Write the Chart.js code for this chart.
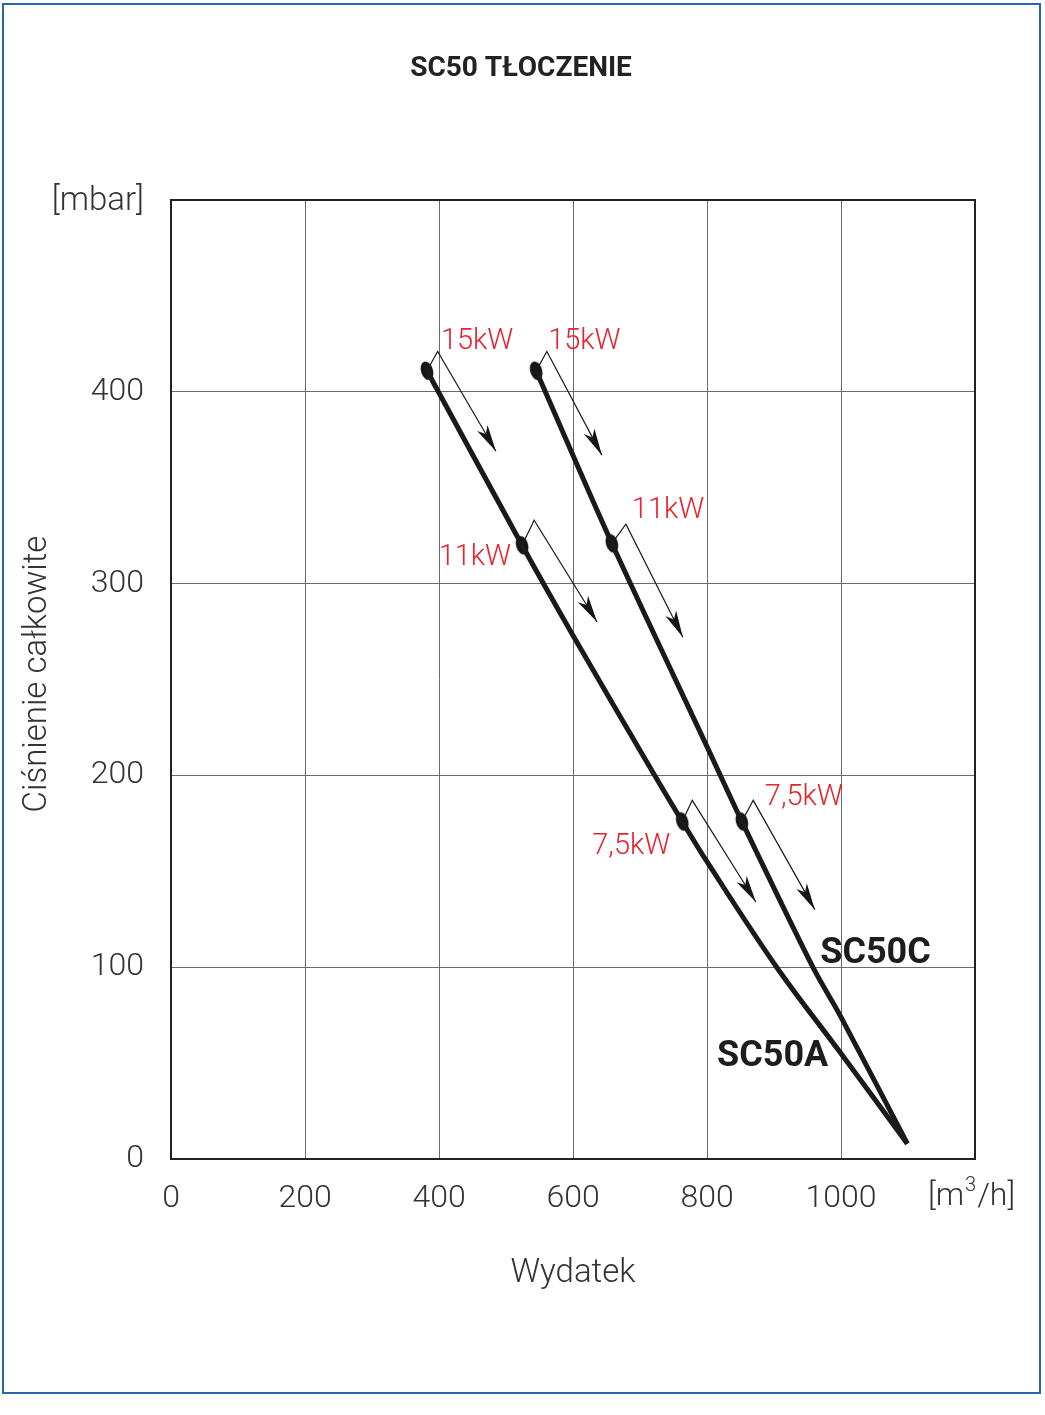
<!DOCTYPE html>
<html>
<head>
<meta charset="utf-8">
<script src="https://cdn.jsdelivr.net/npm/chart.js@4.4.1/dist/chart.umd.min.js"></script>
<style>
  html, body { margin: 0; padding: 0; background: #fff; }
  #frame { position: absolute; left: 2px; top: 3px; width: 1035px; height: 1387px; border: 2px solid #2566ad; }
  #wrap { position: absolute; left: 0; top: 0; width: 1045px; height: 1415px; }
</style>
</head>
<body>
<div id="frame"></div>
<div id="wrap"><canvas id="pumpChart" width="1045" height="1415"></canvas></div>
<script>
// model names and motor sizes
const modelNames = ['SC50A', 'SC50C'];
const motorPower = ['15kW', '11kW', '7,5kW'];

// curves: flow [m3/h] -> total pressure [mbar]
const sc50aFlow = [382, 524, 600, 722, 763, 800, 904, 1000, 1099];
const sc50aPressure = [411, 320, 273, 200, 176, 155, 100, 55, 8];
const sc50cFlow = [545, 658, 800, 852, 958, 1000, 1099];
const sc50cPressure = [411, 321, 215, 176, 100, 74, 8];

// operating points (15kW, 11kW, 7,5kW)
const sc50aPointFlow = [382, 524, 763];
const sc50aPointPressure = [411, 320, 176];
const sc50cPointFlow = [545, 658, 852];
const sc50cPointPressure = [411, 321, 176];

// arrows next to each point: bend and tip
const sc50aArrowBendFlow = [398, 542, 778];
const sc50aArrowBendPressure = [421, 333, 187];
const sc50aArrowTipFlow = [485, 636, 873];
const sc50aArrowTipPressure = [369, 280, 134];
const sc50cArrowBendFlow = [561, 679, 869];
const sc50cArrowBendPressure = [421, 331, 187];
const sc50cArrowTipFlow = [643, 764, 961];
const sc50cArrowTipPressure = [367, 272, 130];

// axis ticks
const flowTicks = [0, 200, 400, 600, 800, 1000, 1200];
const pressureTicks = [0, 100, 200, 300, 400, 500];

const toXY = (xs, ys) => xs.map((x, i) => ({ x: x, y: ys[i] }));

// the elliptic dot used for points
const dot = document.createElement('canvas');
dot.width = 20; dot.height = 24;
(function () {
  const d = dot.getContext('2d');
  d.fillStyle = '#161616';
  d.beginPath();
  d.ellipse(10, 12, 6, 9.5, -0.3, 0, Math.PI * 2);
  d.fill();
})();

const datasets = [
  { label: modelNames[0], data: toXY(sc50aFlow, sc50aPressure), showLine: true, borderColor: '#1a1a1a',
    borderWidth: 5, pointRadius: 0, tension: 0.35 },
  { label: modelNames[1], data: toXY(sc50cFlow, sc50cPressure), showLine: true, borderColor: '#1a1a1a',
    borderWidth: 5, pointRadius: 0, tension: 0.3 },
];

// arrows as thin 3-point lines
[[sc50aPointFlow, sc50aPointPressure, sc50aArrowBendFlow, sc50aArrowBendPressure, sc50aArrowTipFlow, sc50aArrowTipPressure],
 [sc50cPointFlow, sc50cPointPressure, sc50cArrowBendFlow, sc50cArrowBendPressure, sc50cArrowTipFlow, sc50cArrowTipPressure]]
  .forEach(a => {
    for (let i = 0; i < 3; i++) {
      datasets.push({
        isArrow: true,
        data: [{ x: a[0][i], y: a[1][i] }, { x: a[2][i], y: a[3][i] }, { x: a[4][i], y: a[5][i] }],
        showLine: true, borderColor: '#1a1a1a', borderWidth: 1.2, pointRadius: 0, tension: 0
      });
    }
  });

datasets.push({ isPoints: true, model: 0, data: toXY(sc50aPointFlow, sc50aPointPressure), pointStyle: dot, pointRadius: 10 });
datasets.push({ isPoints: true, model: 1, data: toXY(sc50cPointFlow, sc50cPointPressure), pointStyle: dot, pointRadius: 10 });

const FONT = 'Roboto';

// arrow heads at the end of arrow lines
const arrowHeads = {
  id: 'arrowHeads',
  afterDatasetsDraw(chart) {
    const c = chart.ctx;
    chart.data.datasets.forEach((ds, i) => {
      if (!ds.isArrow) return;
      const pts = chart.getDatasetMeta(i).data;
      const a = pts[1], b = pts[2];
      const ang = Math.atan2(b.y - a.y, b.x - a.x);
      c.save();
      c.translate(b.x, b.y);
      c.rotate(ang);
      c.beginPath();
      c.moveTo(0, 0);
      c.lineTo(-27, -6);
      c.lineTo(-20, 0);
      c.lineTo(-27, 6);
      c.closePath();
      c.fillStyle = '#161616';
      c.fill();
      c.restore();
    });
  }
};

// all the free text around the plot
const labelsPlugin = {
  id: 'labelsPlugin',
  afterDraw(chart) {
    const c = chart.ctx;
    const area = chart.chartArea;
    const xs = chart.scales.x, ys = chart.scales.y;
    c.save();

    // frame of the plot
    c.strokeStyle = '#222';
    c.lineWidth = 2;
    c.strokeRect(area.left, area.top, area.right - area.left, area.bottom - area.top);

    c.fillStyle = '#222';
    c.font = 'bold 28px ' + FONT;
    c.textAlign = 'center';
    c.textBaseline = 'middle';
    c.fillText('SC50 TŁOCZENIE', 521, 69);

    c.fillStyle = '#333';
    c.font = '300 33px ' + FONT;
    c.textAlign = 'right';
    c.fillText('[mbar]', 144, 202);

    c.textAlign = 'center';
    c.fillText('Wydatek', xs.getPixelForValue(600), 1274);

    // unit after the x ticks
    c.font = '300 32px ' + FONT;
    c.textAlign = 'left';
    let ux = 928;
    c.fillText('[m', ux, 1197);
    ux += c.measureText('[m').width;
    c.font = '300 20px ' + FONT;
    c.fillText('3', ux + 1, 1186);
    ux += c.measureText('3').width + 2;
    c.font = '300 32px ' + FONT;
    c.fillText('/h]', ux, 1197);

    c.save();
    c.font = '300 33px ' + FONT;
    c.translate(38, 674);
    c.rotate(-Math.PI / 2);
    c.textAlign = 'center';
    c.fillText('Ciśnienie całkowite', 0, 0);
    c.restore();

    // motor sizes next to the points
    const place = [
      [{ al: 'left', dx: 14, dy: -29 }, { al: 'right', dx: -11, dy: 13 }, { al: 'right', dx: -12, dy: 25 }],
      [{ al: 'left', dx: 12, dy: -29 }, { al: 'left', dx: 20, dy: -33 }, { al: 'left', dx: 23, dy: -24 }]
    ];
    c.fillStyle = '#e8232c';
    c.font = '300 29px ' + FONT;
    chart.data.datasets.forEach((ds, i) => {
      if (!ds.isPoints) return;
      chart.getDatasetMeta(i).data.forEach((p, k) => {
        const pl = place[ds.model][k];
        c.textAlign = pl.al;
        c.fillText(motorPower[k], p.x + pl.dx, p.y + pl.dy);
      });
    });

    // model names
    c.fillStyle = '#1d1d1d';
    c.font = 'bold 36px ' + FONT;
    c.textAlign = 'left';
    c.fillText(modelNames[1], xs.getPixelForValue(969), ys.getPixelForValue(107));
    c.fillText(modelNames[0], xs.getPixelForValue(815), ys.getPixelForValue(53));
    c.restore();
  }
};

new Chart(document.getElementById('pumpChart'), {
  type: 'scatter',
  data: { datasets: datasets },
  options: {
    responsive: false,
    animation: false,
    layout: { padding: { left: 0, top: 200, right: 70, bottom: 156 } },
    plugins: { legend: { display: false }, tooltip: { enabled: false }, title: { display: false } },
    scales: {
      x: {
        type: 'linear', min: 0, max: 1200,
        afterBuildTicks: s => { s.ticks = flowTicks.map(v => ({ value: v })); },
        afterFit: s => { s.height = 100; },
        grid: { color: '#6a6a6a', lineWidth: 1, drawTicks: false },
        border: { display: false },
        ticks: {
          padding: 21, color: '#333', font: { family: FONT, size: 32, weight: '300' },
          maxRotation: 0, autoSkip: false,
          callback: v => (v === 1200 ? '' : String(v))
        }
      },
      y: {
        type: 'linear', min: 0, max: 500,
        afterBuildTicks: s => { s.ticks = pressureTicks.map(v => ({ value: v })); },
        afterFit: s => { s.width = 171; },
        grid: { color: '#6a6a6a', lineWidth: 1, drawTicks: false },
        border: { display: false },
        ticks: {
          padding: 27, color: '#333', font: { family: FONT, size: 32, weight: '300' },
          callback: v => (v === 500 ? '' : String(v))
        }
      }
    }
  },
  plugins: [arrowHeads, labelsPlugin]
});
</script>
</body>
</html>
